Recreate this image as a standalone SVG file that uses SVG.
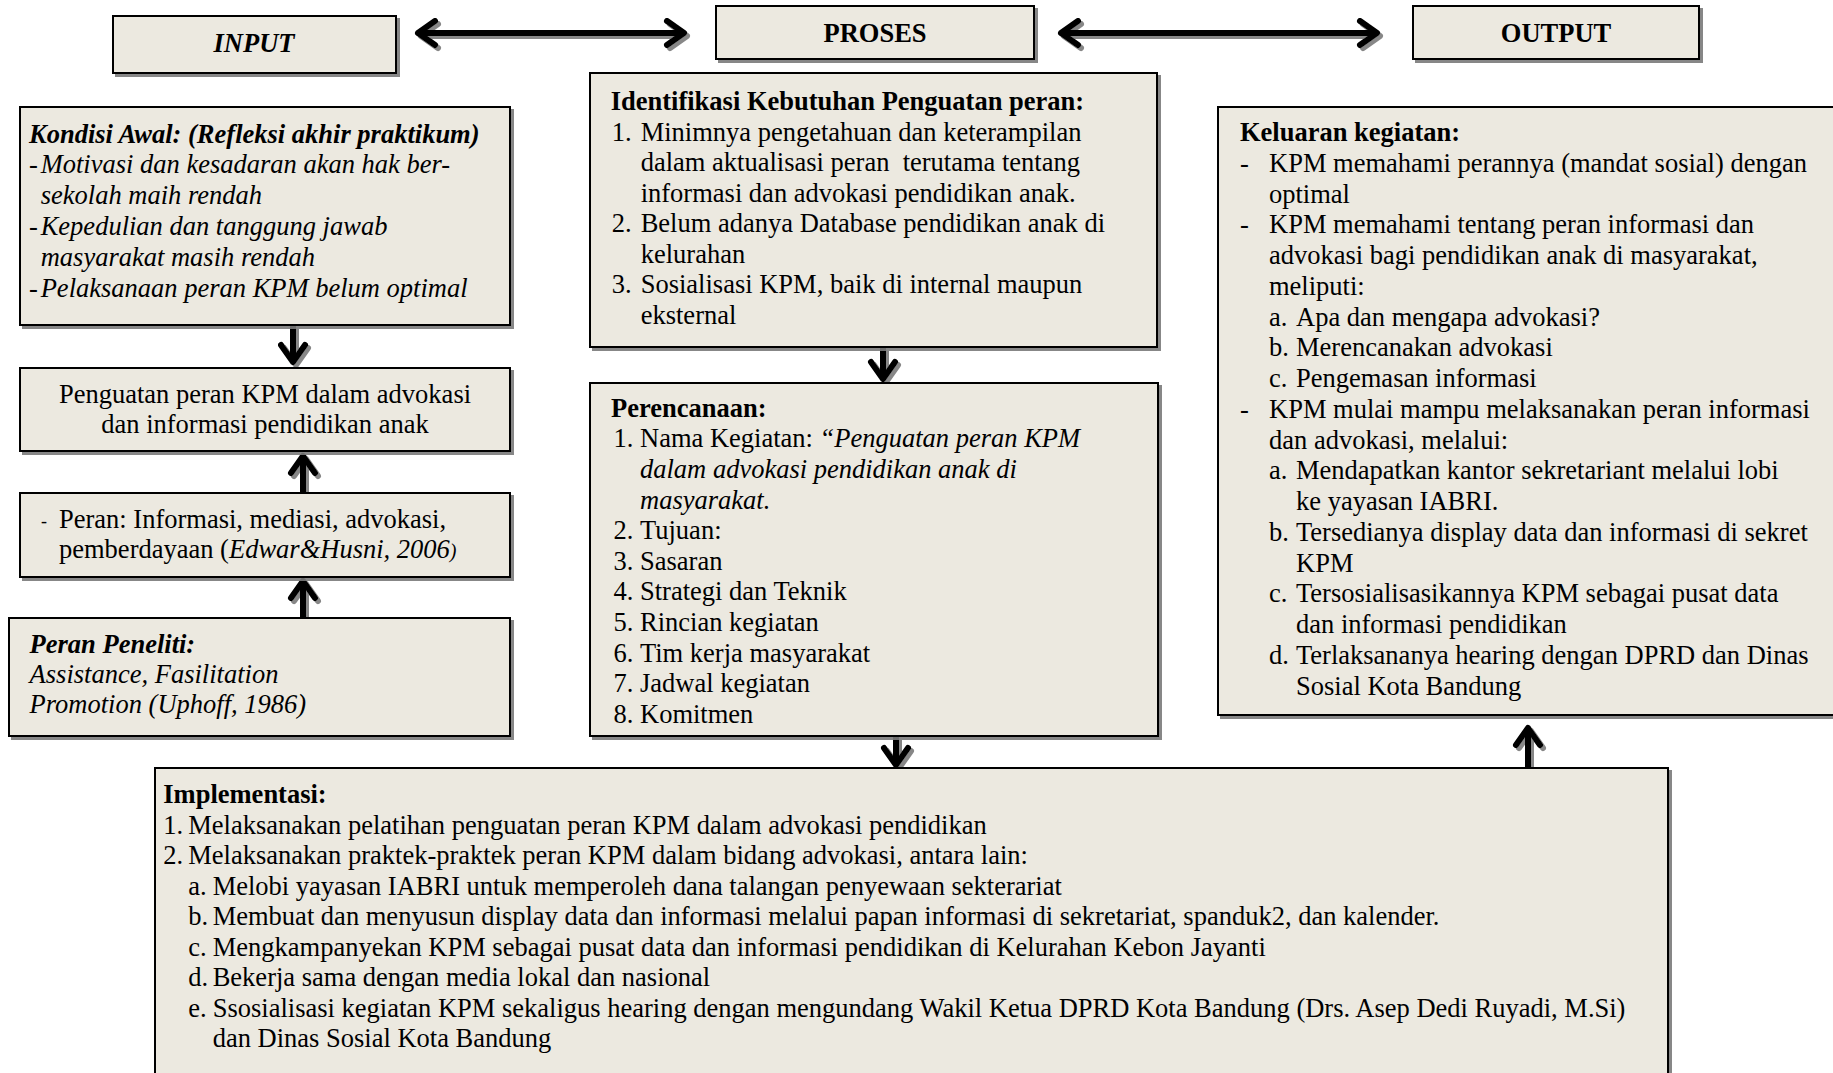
<svg xmlns="http://www.w3.org/2000/svg" width="1833" height="1073" viewBox="0 0 1833 1073">
<style>
.box{fill:#ECE9E0;stroke:#000;stroke-width:2}
text{font-family:"Liberation Serif","Times New Roman",serif;font-size:26.5px;fill:#000;white-space:pre}
.b{font-weight:bold}
.i{font-style:italic}
.c{text-anchor:middle}
.conn{stroke:#000;stroke-width:6;fill:none}
</style>
<defs>
<filter id="sh" x="-5%" y="-5%" width="115%" height="115%">
<feDropShadow dx="3" dy="3" stdDeviation="0.6" flood-color="#7a7a7a" flood-opacity="0.9"/>
</filter>
<marker id="ah" viewBox="-24 -18 30 36" refX="0" refY="0" markerWidth="30" markerHeight="36" markerUnits="userSpaceOnUse" orient="auto-start-reverse">
<path d="M-17,-12 L0,0 L-17,12" fill="none" stroke="#000" stroke-width="6" stroke-linejoin="round" stroke-linecap="round"/>
</marker>
</defs>
<rect width="1833" height="1073" fill="#fff"/>

<g id="connectors" filter="url(#sh)">
<path class="conn" d="M418,33 H684" marker-start="url(#ah)" marker-end="url(#ah)"/>
<path class="conn" d="M1061,33 H1377" marker-start="url(#ah)" marker-end="url(#ah)"/>
<path class="conn" d="M293,326 V362" marker-end="url(#ah)"/>
<path class="conn" d="M303,493 V456" marker-end="url(#ah)"/>
<path class="conn" d="M303,618 V581" marker-end="url(#ah)"/>
<path class="conn" d="M883,348 V379" marker-end="url(#ah)"/>
<path class="conn" d="M896,737 V765" marker-end="url(#ah)"/>
<path class="conn" d="M1528,768 V728" marker-end="url(#ah)"/>
</g>

<g id="input">
<rect class="box" x="113" y="16" width="283" height="57" filter="url(#sh)"/>
<text class="b i c" x="254" y="52">INPUT</text>
</g>

<g id="proses">
<rect class="box" x="716" y="6" width="318" height="53" filter="url(#sh)"/>
<text class="b c" x="875" y="42">PROSES</text>
</g>

<g id="output">
<rect class="box" x="1413" y="6" width="286" height="53" filter="url(#sh)"/>
<text class="b c" x="1556" y="42">OUTPUT</text>
</g>

<g id="kondisi-awal">
<rect class="box" x="20" y="107" width="490" height="218" filter="url(#sh)"/>
<text class="b i" x="29" y="142.5">Kondisi Awal: (Refleksi akhir praktikum)</text>
<text class="i" x="29" y="173.3">-</text>
<text class="i" x="40.7" y="173.3">Motivasi dan kesadaran akan hak ber-</text>
<text class="i" x="40.7" y="204.1">sekolah maih rendah</text>
<text class="i" x="29" y="234.9">-</text>
<text class="i" x="40.7" y="234.9">Kepedulian dan tanggung jawab</text>
<text class="i" x="40.7" y="265.7">masyarakat masih rendah</text>
<text class="i" x="29" y="296.5">-</text>
<text class="i" x="40.7" y="296.5">Pelaksanaan peran KPM belum optimal</text>
</g>

<g id="penguatan">
<rect class="box" x="20" y="368" width="490" height="83" filter="url(#sh)"/>
<text class="c" x="265" y="403.3">Penguatan peran KPM dalam advokasi</text>
<text class="c" x="265" y="433.3">dan informasi pendidikan anak</text>
</g>

<g id="peran">
<rect class="box" x="20" y="493" width="490" height="84" filter="url(#sh)"/>
<text x="41" y="527" style="font-size:18px">-</text>
<text x="59" y="528">Peran: Informasi, mediasi, advokasi,</text>
<text x="59" y="558.3">pemberdayaan (<tspan class="i">Edwar&amp;Husni, 2006</tspan><tspan class="i" style="font-size:20px">)</tspan></text>
</g>

<g id="peran-peneliti">
<rect class="box" x="9" y="618" width="501" height="118" filter="url(#sh)"/>
<text class="b i" x="29.6" y="653.3">Peran Peneliti:</text>
<text class="i" x="29.6" y="683.3">Assistance, Fasilitation</text>
<text class="i" x="29.6" y="713.3">Promotion (Uphoff, 1986)</text>
</g>

<g id="identifikasi">
<rect class="box" x="590" y="73" width="567" height="274" filter="url(#sh)"/>
<text class="b" x="610.7" y="110">Identifikasi Kebutuhan Penguatan peran:</text>
<text x="611.7" y="140.5">1.</text>
<text x="640.7" y="140.5">Minimnya pengetahuan dan keterampilan</text>
<text x="640.7" y="171">dalam aktualisasi peran  terutama tentang</text>
<text x="640.7" y="201.5">informasi dan advokasi pendidikan anak.</text>
<text x="611.7" y="232">2.</text>
<text x="640.7" y="232">Belum adanya Database pendidikan anak di</text>
<text x="640.7" y="262.5">kelurahan</text>
<text x="611.7" y="293">3.</text>
<text x="640.7" y="293">Sosialisasi KPM, baik di internal maupun</text>
<text x="640.7" y="323.5">eksternal</text>
</g>

<g id="perencanaan">
<rect class="box" x="590" y="383" width="568" height="353" filter="url(#sh)"/>
<text class="b" x="611" y="416.7">Perencanaan:</text>
<text x="613.6" y="447.3">1.</text>
<text x="640" y="447.3">Nama Kegiatan: <tspan class="i">“Penguatan peran KPM</tspan></text>
<text class="i" x="640" y="477.9">dalam advokasi pendidikan anak di</text>
<text class="i" x="640" y="508.5">masyarakat.</text>
<text x="613.6" y="539.1">2.</text>
<text x="640" y="539.1">Tujuan:</text>
<text x="613.6" y="569.7">3.</text>
<text x="640" y="569.7">Sasaran</text>
<text x="613.6" y="600.3">4.</text>
<text x="640" y="600.3">Strategi dan Teknik</text>
<text x="613.6" y="630.9">5.</text>
<text x="640" y="630.9">Rincian kegiatan</text>
<text x="613.6" y="661.5">6.</text>
<text x="640" y="661.5">Tim kerja masyarakat</text>
<text x="613.6" y="692.1">7.</text>
<text x="640" y="692.1">Jadwal kegiatan</text>
<text x="613.6" y="722.7">8.</text>
<text x="640" y="722.7">Komitmen</text>
</g>

<g id="keluaran">
<rect class="box" x="1218" y="107" width="630" height="608" filter="url(#sh)"/>
<text class="b" x="1240" y="141">Keluaran kegiatan:</text>
<text x="1240" y="171.8">-</text>
<text x="1269" y="171.8">KPM memahami perannya (mandat sosial) dengan</text>
<text x="1269" y="202.5">optimal</text>
<text x="1240" y="233.3">-</text>
<text x="1269" y="233.3">KPM memahami tentang peran informasi dan</text>
<text x="1269" y="264">advokasi bagi pendidikan anak di masyarakat,</text>
<text x="1269" y="294.8">meliputi:</text>
<text x="1269" y="325.5">a.</text>
<text x="1296" y="325.5">Apa dan mengapa advokasi?</text>
<text x="1269" y="356.3">b.</text>
<text x="1296" y="356.3">Merencanakan advokasi</text>
<text x="1269" y="387">c.</text>
<text x="1296" y="387">Pengemasan informasi</text>
<text x="1240" y="417.8">-</text>
<text x="1269" y="417.8">KPM mulai mampu melaksanakan peran informasi</text>
<text x="1269" y="448.5">dan advokasi, melalui:</text>
<text x="1269" y="479.3">a.</text>
<text x="1296" y="479.3">Mendapatkan kantor sekretariant melalui lobi</text>
<text x="1296" y="510">ke yayasan IABRI.</text>
<text x="1269" y="540.8">b.</text>
<text x="1296" y="540.8">Tersedianya display data dan informasi di sekret</text>
<text x="1296" y="571.5">KPM</text>
<text x="1269" y="602.3">c.</text>
<text x="1296" y="602.3">Tersosialisasikannya KPM sebagai pusat data</text>
<text x="1296" y="633">dan informasi pendidikan</text>
<text x="1269" y="663.8">d.</text>
<text x="1296" y="663.8">Terlaksananya hearing dengan DPRD dan Dinas</text>
<text x="1296" y="694.5">Sosial Kota Bandung</text>
</g>

<g id="implementasi">
<rect class="box" x="155" y="768" width="1513" height="320" filter="url(#sh)"/>
<text class="b" x="163.3" y="803.3">Implementasi:</text>
<text x="163.3" y="833.8">1.</text>
<text x="188.3" y="833.8">Melaksanakan pelatihan penguatan peran KPM dalam advokasi pendidikan</text>
<text x="163.3" y="864.3">2.</text>
<text x="188.3" y="864.3">Melaksanakan praktek-praktek peran KPM dalam bidang advokasi, antara lain:</text>
<text x="188.3" y="894.8">a.</text>
<text x="212.7" y="894.8">Melobi yayasan IABRI untuk memperoleh dana talangan penyewaan sekterariat</text>
<text x="188.3" y="925.3">b.</text>
<text x="212.7" y="925.3">Membuat dan menyusun display data dan informasi melalui papan informasi di sekretariat, spanduk2, dan kalender.</text>
<text x="188.3" y="955.8">c.</text>
<text x="212.7" y="955.8">Mengkampanyekan KPM sebagai pusat data dan informasi pendidikan di Kelurahan Kebon Jayanti</text>
<text x="188.3" y="986.3">d.</text>
<text x="212.7" y="986.3">Bekerja sama dengan media lokal dan nasional</text>
<text x="188.3" y="1016.8">e.</text>
<text x="212.7" y="1016.8">Ssosialisasi kegiatan KPM sekaligus hearing dengan mengundang Wakil Ketua DPRD Kota Bandung (Drs. Asep Dedi Ruyadi, M.Si)</text>
<text x="212.7" y="1047.3">dan Dinas Sosial Kota Bandung</text>
</g>
</svg>
